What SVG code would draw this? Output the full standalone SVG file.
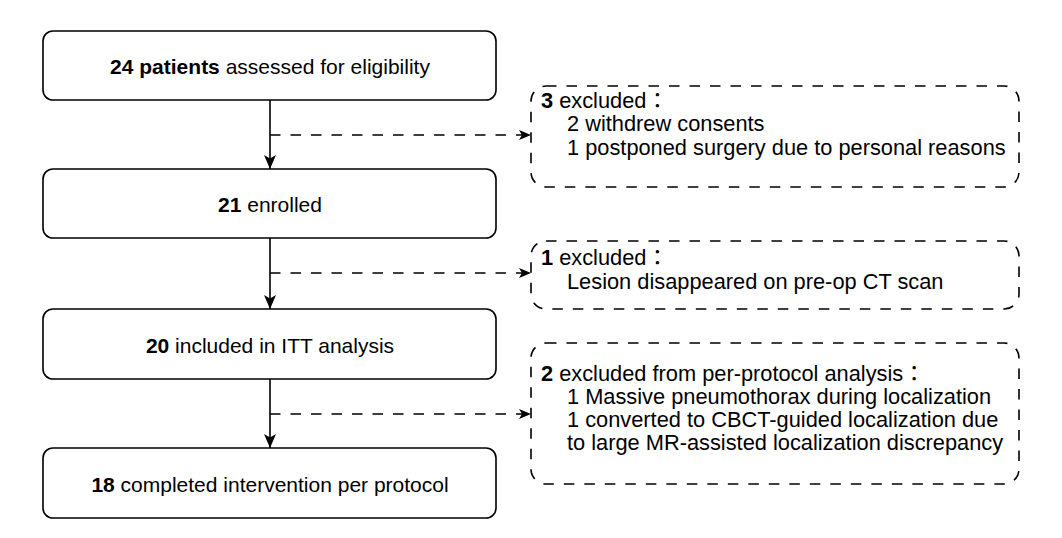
<svg xmlns="http://www.w3.org/2000/svg" width="1062" height="538" viewBox="0 0 1062 538">
<defs>
<style>
.box{fill:#fff;stroke:#000;stroke-width:1.6}
.dbox{fill:none;stroke:#000;stroke-width:1.6;stroke-dasharray:10.5 10}
.ln{fill:none;stroke:#000;stroke-width:1.6}
.dln{fill:none;stroke:#000;stroke-width:1.6;stroke-dasharray:10.5 10}
text{font-family:"Liberation Sans",Arial,"Noto Sans CJK JP",sans-serif;font-size:21px;fill:#000}
.r{font-size:21.8px}
.c{text-anchor:middle}
.b{font-weight:bold}
.cl{font-family:"Noto Sans CJK TC","Noto Sans CJK JP",sans-serif}
</style>
<marker id="ah" viewBox="0 0 14 12" refX="14" refY="6" markerWidth="14" markerHeight="12" markerUnits="userSpaceOnUse" orient="auto">
<path d="M0,0 L14,6 L0,12 L3.5,6 Z" fill="#000"/>
</marker>
<marker id="ah2" viewBox="0 0 12 10" refX="12" refY="5" markerWidth="12" markerHeight="10" markerUnits="userSpaceOnUse" orient="auto">
<path d="M0,0 L12,5 L0,10 L3,5 Z" fill="#000"/>
</marker>
</defs>
<g id="connectors">
<path class="ln" d="M270,100 V169" marker-end="url(#ah)"/>
<path class="ln" d="M270,238 V309" marker-end="url(#ah)"/>
<path class="ln" d="M270,379 V448" marker-end="url(#ah)"/>
<path class="dln" d="M270,135 H531" marker-end="url(#ah2)"/>
<path class="dln" d="M270,273 H531" marker-end="url(#ah2)"/>
<path class="dln" d="M270,414 H531" marker-end="url(#ah2)"/>
</g>
<g id="n1"><rect class="box" x="43" y="31" width="453" height="69" rx="10"/>
<text class="c" x="270" y="73.5"><tspan class="b">24 patients</tspan> assessed for eligibility</text></g>
<g id="n2"><rect class="box" x="43" y="169" width="453" height="69" rx="10"/>
<text class="c" x="270" y="211.5"><tspan class="b">21</tspan> enrolled</text></g>
<g id="n3"><rect class="box" x="43" y="309" width="453" height="70" rx="10"/>
<text class="c" x="270" y="352.5"><tspan class="b">20</tspan> included in ITT analysis</text></g>
<g id="n4"><rect class="box" x="43" y="448" width="453" height="70" rx="10"/>
<text class="c" x="270" y="491.5"><tspan class="b">18</tspan> completed intervention per protocol</text></g>
<g id="e1"><rect class="dbox" x="531" y="86" width="488" height="101" rx="15"/>
<text class="r" x="541" y="107.5"><tspan class="b">3</tspan> excluded<tspan class="cl">：</tspan></text>
<text class="r" x="567" y="131">2 withdrew consents</text>
<text class="r" x="567" y="154.5">1 postponed surgery due to personal reasons</text></g>
<g id="e2"><rect class="dbox" x="531" y="241" width="488" height="68" rx="15"/>
<text class="r" x="541" y="265"><tspan class="b">1</tspan> excluded<tspan class="cl">：</tspan></text>
<text class="r" x="567" y="288.5">Lesion disappeared on pre-op CT scan</text></g>
<g id="e3"><rect class="dbox" x="531" y="343" width="488" height="141" rx="15"/>
<text class="r" x="541" y="380.5"><tspan class="b">2</tspan> excluded from per-protocol analysis<tspan class="cl">：</tspan></text>
<text class="r" x="567" y="404">1 Massive pneumothorax during localization</text>
<text class="r" x="567" y="427">1 converted to CBCT-guided localization due</text>
<text class="r" x="567" y="450">to large MR-assisted localization discrepancy</text></g>
</svg>
